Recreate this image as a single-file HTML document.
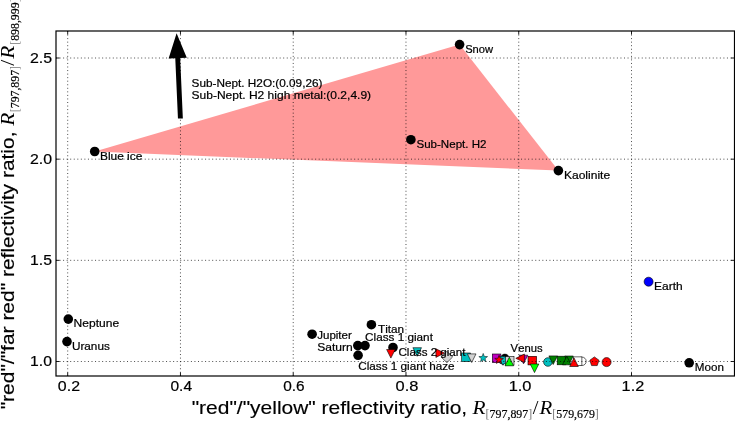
<!DOCTYPE html>
<html><head><meta charset="utf-8"><style>
html,body{margin:0;padding:0;background:#fff;}
body{width:735px;height:421px;overflow:hidden;}
svg{display:block;}
svg{will-change:transform;}
text{font-kerning:none;}
.b{stroke:#000;stroke-width:0.2px;}
.b2{stroke:#000;stroke-width:0.15px;}
</style></head><body>
<svg width="735" height="421" viewBox="0 0 735 421">
<rect x="0" y="0" width="735" height="421" fill="#fff"/>
<polygon points="94.7,151.5 459.6,44.6 558.4,170.6" fill="#ff9999"/>
<circle cx="94.7" cy="151.5" r="4.8" fill="#000" stroke="#000" stroke-width="0"/><circle cx="459.6" cy="44.6" r="4.8" fill="#000" stroke="#000" stroke-width="0"/><circle cx="558.4" cy="170.6" r="4.8" fill="#000" stroke="#000" stroke-width="0"/><circle cx="410.9" cy="139.7" r="4.8" fill="#000" stroke="#000" stroke-width="0"/><circle cx="68.3" cy="319.1" r="4.8" fill="#000" stroke="#000" stroke-width="0"/><circle cx="67.0" cy="341.6" r="4.8" fill="#000" stroke="#000" stroke-width="0"/><circle cx="312.1" cy="334.2" r="4.8" fill="#000" stroke="#000" stroke-width="0"/><circle cx="371.4" cy="324.7" r="4.8" fill="#000" stroke="#000" stroke-width="0"/><circle cx="357.8" cy="345.6" r="4.8" fill="#000" stroke="#000" stroke-width="0"/><circle cx="365.0" cy="345.6" r="4.8" fill="#000" stroke="#000" stroke-width="0"/><circle cx="358.1" cy="355.3" r="4.8" fill="#000" stroke="#000" stroke-width="0"/><circle cx="393.0" cy="347.5" r="4.8" fill="#000" stroke="#000" stroke-width="0"/><circle cx="689.2" cy="362.8" r="4.8" fill="#000" stroke="#000" stroke-width="0"/><circle cx="648.6" cy="281.7" r="4.5" fill="#0000ff" stroke="#000" stroke-width="0.6"/><polygon points="386.60,349.50 395.20,349.50 390.90,358.10" fill="#ff0000" stroke="#000" stroke-width="0.6"/><polygon points="412.90,347.70 421.50,347.70 417.20,356.30" fill="#00bfbf" stroke="#000" stroke-width="0.6"/><polygon points="435.90,348.80 435.90,357.40 444.50,353.10" fill="#ff0000" stroke="#000" stroke-width="0.6"/><polygon points="446.90,351.30 452.60,357.00 446.90,362.70 441.20,357.00" fill="#d3d3d3" stroke="#000" stroke-width="0.6"/><rect x="461.70" y="353.00" width="8.6" height="8.6" fill="#00bfbf" stroke="#000" stroke-width="0.6"/><polygon points="467.40,353.90 476.00,353.90 471.70,362.50" fill="#d3d3d3" stroke="#000" stroke-width="0.6"/><polygon points="483.20,353.40 484.34,356.44 487.57,356.58 485.04,358.60 485.90,361.72 483.20,359.93 480.50,361.72 481.36,358.60 478.83,356.58 482.06,356.44" fill="#00bfbf" stroke="#000" stroke-width="0.5"/><circle cx="504.9" cy="358.5" r="4.4" fill="#000" stroke="#000" stroke-width="0.6"/><rect x="492.30" y="354.00" width="8.6" height="8.6" fill="#bf00bf" stroke="#000" stroke-width="0.6"/><polygon points="498.70,356.70 507.30,356.70 503.00,365.30" fill="#00bfbf" stroke="#000" stroke-width="0.6"/><circle cx="502.9" cy="360.3" r="4.0" fill="#00bfbf" stroke="#000" stroke-width="0.6"/><polygon points="499.10,355.20 500.24,358.24 503.47,358.38 500.94,360.40 501.80,363.52 499.10,361.73 496.40,363.52 497.26,360.40 494.73,358.38 497.96,358.24" fill="#ff0000" stroke="#000" stroke-width="0.5"/><rect x="505.40" y="356.50" width="8.6" height="8.6" fill="#d3d3d3" stroke="#000" stroke-width="0.6"/><polygon points="505.00,365.80 513.60,365.80 509.30,357.20" fill="#00ff00" stroke="#000" stroke-width="0.6"/><polygon points="519.20,355.20 527.80,355.20 523.50,363.80" fill="#bf00bf" stroke="#000" stroke-width="0.6"/><polygon points="524.40,354.00 524.40,362.60 515.80,358.30" fill="#ff0000" stroke="#000" stroke-width="0.6"/><rect x="528.00" y="356.30" width="8.6" height="8.6" fill="#ff0000" stroke="#000" stroke-width="0.6"/><polygon points="530.20,364.00 538.80,364.00 534.50,372.60" fill="#00ff00" stroke="#000" stroke-width="0.6"/><circle cx="547.9" cy="362.0" r="4.3" fill="#00bfbf" stroke="#000" stroke-width="0.6"/><polygon points="548.90,355.90 557.50,355.90 553.20,364.50" fill="#008000" stroke="#000" stroke-width="0.6"/><rect x="557.20" y="356.20" width="8.6" height="8.6" fill="#008000" stroke="#000" stroke-width="0.6"/><polygon points="564.70,356.00 573.30,356.00 569.00,364.60" fill="#008000" stroke="#000" stroke-width="0.6"/><polygon points="562.50,364.80 571.10,364.80 566.80,356.20" fill="#008000" stroke="#000" stroke-width="0.6"/><circle cx="582.0" cy="361.3" r="4.2" fill="#fff" stroke="#000" stroke-width="0.6"/><rect x="573.30" y="356.90" width="8.6" height="8.6" fill="#fff" stroke="#000" stroke-width="0.6"/><polygon points="569.70,366.50 578.30,366.50 574.00,357.90" fill="#ff0000" stroke="#000" stroke-width="0.6"/><polygon points="594.40,356.90 598.97,360.22 597.22,365.58 591.58,365.58 589.83,360.22" fill="#ff0000" stroke="#000" stroke-width="0.6"/><circle cx="606.6" cy="362.1" r="4.5" fill="#ff0000" stroke="#000" stroke-width="0.6"/>
<g stroke="#000" stroke-width="0.7" stroke-dasharray="1 2.55" fill="none"><line x1="67.70" y1="31.0" x2="67.70" y2="376.0"/><line x1="180.46" y1="31.0" x2="180.46" y2="376.0"/><line x1="293.22" y1="31.0" x2="293.22" y2="376.0"/><line x1="405.98" y1="31.0" x2="405.98" y2="376.0"/><line x1="518.74" y1="31.0" x2="518.74" y2="376.0"/><line x1="631.50" y1="31.0" x2="631.50" y2="376.0"/><line x1="56.0" y1="361.50" x2="734.5" y2="361.50"/><line x1="56.0" y1="260.33" x2="734.5" y2="260.33"/><line x1="56.0" y1="159.17" x2="734.5" y2="159.17"/><line x1="56.0" y1="58.00" x2="734.5" y2="58.00"/></g>
<rect x="56.0" y="31.0" width="678.50" height="345.00" fill="none" stroke="#000" stroke-width="1.2"/><g stroke="#000" stroke-width="0.9"><line x1="67.70" y1="376.0" x2="67.70" y2="372.5"/><line x1="67.70" y1="31.0" x2="67.70" y2="34.5"/><line x1="180.46" y1="376.0" x2="180.46" y2="372.5"/><line x1="180.46" y1="31.0" x2="180.46" y2="34.5"/><line x1="293.22" y1="376.0" x2="293.22" y2="372.5"/><line x1="293.22" y1="31.0" x2="293.22" y2="34.5"/><line x1="405.98" y1="376.0" x2="405.98" y2="372.5"/><line x1="405.98" y1="31.0" x2="405.98" y2="34.5"/><line x1="518.74" y1="376.0" x2="518.74" y2="372.5"/><line x1="518.74" y1="31.0" x2="518.74" y2="34.5"/><line x1="631.50" y1="376.0" x2="631.50" y2="372.5"/><line x1="631.50" y1="31.0" x2="631.50" y2="34.5"/><line x1="56.0" y1="361.50" x2="59.5" y2="361.50"/><line x1="734.5" y1="361.50" x2="731.0" y2="361.50"/><line x1="56.0" y1="260.33" x2="59.5" y2="260.33"/><line x1="734.5" y1="260.33" x2="731.0" y2="260.33"/><line x1="56.0" y1="159.17" x2="59.5" y2="159.17"/><line x1="734.5" y1="159.17" x2="731.0" y2="159.17"/><line x1="56.0" y1="58.00" x2="59.5" y2="58.00"/><line x1="734.5" y1="58.00" x2="731.0" y2="58.00"/></g>
<text x="57.86" y="391.40" font-size="14.8" font-family='"Liberation Sans", sans-serif' style="" textLength="22.13" lengthAdjust="spacingAndGlyphs" fill="#000" class="b">0.2</text>
<text x="170.48" y="391.40" font-size="14.8" font-family='"Liberation Sans", sans-serif' style="" textLength="21.59" lengthAdjust="spacingAndGlyphs" fill="#000" class="b">0.4</text>
<text x="283.18" y="391.40" font-size="14.8" font-family='"Liberation Sans", sans-serif' style="" textLength="21.43" lengthAdjust="spacingAndGlyphs" fill="#000" class="b">0.6</text>
<text x="395.54" y="391.40" font-size="14.8" font-family='"Liberation Sans", sans-serif' style="" textLength="22.81" lengthAdjust="spacingAndGlyphs" fill="#000" class="b">0.8</text>
<text x="508.67" y="391.40" font-size="14.8" font-family='"Liberation Sans", sans-serif' style="" textLength="22.80" lengthAdjust="spacingAndGlyphs" fill="#000" class="b">1.0</text>
<text x="621.58" y="391.40" font-size="14.8" font-family='"Liberation Sans", sans-serif' style="" textLength="22.64" lengthAdjust="spacingAndGlyphs" fill="#000" class="b">1.2</text>
<text x="30.12" y="366.00" font-size="14.8" font-family='"Liberation Sans", sans-serif' style="" textLength="21.83" lengthAdjust="spacingAndGlyphs" fill="#000" class="b">1.0</text>
<text x="30.12" y="265.00" font-size="14.8" font-family='"Liberation Sans", sans-serif' style="" textLength="21.91" lengthAdjust="spacingAndGlyphs" fill="#000" class="b">1.5</text>
<text x="29.91" y="164.00" font-size="14.8" font-family='"Liberation Sans", sans-serif' style="" textLength="22.05" lengthAdjust="spacingAndGlyphs" fill="#000" class="b">2.0</text>
<text x="29.90" y="63.00" font-size="14.8" font-family='"Liberation Sans", sans-serif' style="" textLength="22.13" lengthAdjust="spacingAndGlyphs" fill="#000" class="b">2.5</text>
<polygon points="182.85,118.39 180.16,58.07 186.80,57.77 176.60,33.20 168.62,58.58 175.27,58.28 177.95,118.61" fill="#000"/>
<text x="99.94" y="159.60" font-size="10.8" font-family='"Liberation Sans", sans-serif' style="" textLength="42.39" lengthAdjust="spacingAndGlyphs" fill="#000" class="b">Blue ice</text><text x="465.20" y="52.70" font-size="10.8" font-family='"Liberation Sans", sans-serif' style="" textLength="27.85" lengthAdjust="spacingAndGlyphs" fill="#000" class="b">Snow</text><text x="563.93" y="178.80" font-size="10.8" font-family='"Liberation Sans", sans-serif' style="" textLength="46.21" lengthAdjust="spacingAndGlyphs" fill="#000" class="b">Kaolinite</text><text x="416.48" y="148.20" font-size="10.8" font-family='"Liberation Sans", sans-serif' style="" textLength="70.00" lengthAdjust="spacingAndGlyphs" fill="#000" class="b">Sub-Nept. H2</text><text x="191.57" y="87.00" font-size="10.8" font-family='"Liberation Sans", sans-serif' style="" textLength="130.89" lengthAdjust="spacingAndGlyphs" fill="#000" class="b">Sub-Nept. H2O:(0.09,26)</text><text x="191.56" y="98.60" font-size="10.8" font-family='"Liberation Sans", sans-serif' style="" textLength="179.52" lengthAdjust="spacingAndGlyphs" fill="#000" class="b">Sub-Nept. H2 high metal:(0.2,4.9)</text><text x="73.64" y="327.10" font-size="10.8" font-family='"Liberation Sans", sans-serif' style="" textLength="45.51" lengthAdjust="spacingAndGlyphs" fill="#000" class="b">Neptune</text><text x="71.92" y="349.60" font-size="10.8" font-family='"Liberation Sans", sans-serif' style="" textLength="37.89" lengthAdjust="spacingAndGlyphs" fill="#000" class="b">Uranus</text><text x="317.23" y="338.50" font-size="10.8" font-family='"Liberation Sans", sans-serif' style="" textLength="34.60" lengthAdjust="spacingAndGlyphs" fill="#000" class="b">Jupiter</text><text x="317.26" y="350.60" font-size="10.8" font-family='"Liberation Sans", sans-serif' style="" textLength="35.53" lengthAdjust="spacingAndGlyphs" fill="#000" class="b">Saturn</text><text x="377.96" y="332.80" font-size="10.8" font-family='"Liberation Sans", sans-serif' style="" textLength="26.20" lengthAdjust="spacingAndGlyphs" fill="#000" class="b">Titan</text><text x="365.11" y="340.60" font-size="10.8" font-family='"Liberation Sans", sans-serif' style="" textLength="67.80" lengthAdjust="spacingAndGlyphs" fill="#000" class="b">Class 1 giant</text><text x="358.21" y="369.80" font-size="10.8" font-family='"Liberation Sans", sans-serif' style="" textLength="96.41" lengthAdjust="spacingAndGlyphs" fill="#000" class="b">Class 1 giant haze</text><text x="398.52" y="356.10" font-size="10.8" font-family='"Liberation Sans", sans-serif' style="" textLength="66.90" lengthAdjust="spacingAndGlyphs" fill="#000" class="b">Class 2 giant</text><text x="510.64" y="352.40" font-size="10.8" font-family='"Liberation Sans", sans-serif' style="" textLength="31.94" lengthAdjust="spacingAndGlyphs" fill="#000" class="b">Venus</text><text x="654.04" y="289.80" font-size="10.8" font-family='"Liberation Sans", sans-serif' style="" textLength="28.64" lengthAdjust="spacingAndGlyphs" fill="#000" class="b">Earth</text><text x="694.77" y="371.10" font-size="10.8" font-family='"Liberation Sans", sans-serif' style="" textLength="29.09" lengthAdjust="spacingAndGlyphs" fill="#000" class="b">Moon</text>
<text x="191.66" y="413.60" font-size="17.8" font-family='"Liberation Sans", sans-serif' style="" textLength="275.52" lengthAdjust="spacingAndGlyphs" fill="#000" class="b2">&quot;red&quot;/&quot;yellow&quot; reflectivity ratio,</text><text x="472.61" y="413.90" font-size="18.4" font-family='"Liberation Serif", serif' style="font-style:italic;" textLength="13.01" lengthAdjust="spacingAndGlyphs" fill="#000" >R</text><text x="485.61" y="418.20" font-size="12.4" font-family='"Liberation Serif", serif' style="" textLength="46.58" lengthAdjust="spacingAndGlyphs" fill="#000" class="b"><tspan fill="#777" stroke="none">[</tspan>797,897<tspan fill="#777" stroke="none">]</tspan></text><text x="532.80" y="414.00" font-size="18.4" font-family='"Liberation Serif", serif' style="" textLength="5.70" lengthAdjust="spacingAndGlyphs" fill="#000" >/</text><text x="539.40" y="413.90" font-size="18.4" font-family='"Liberation Serif", serif' style="font-style:italic;" textLength="12.71" lengthAdjust="spacingAndGlyphs" fill="#000" >R</text><text x="552.31" y="418.20" font-size="12.4" font-family='"Liberation Serif", serif' style="" textLength="46.48" lengthAdjust="spacingAndGlyphs" fill="#000" class="b"><tspan fill="#777" stroke="none">[</tspan>579,679<tspan fill="#777" stroke="none">]</tspan></text>
<g transform="translate(13.9,408.5) rotate(-90)"><text x="-0.84" y="0.00" font-size="17.8" font-family='"Liberation Sans", sans-serif' style="" textLength="277.82" lengthAdjust="spacingAndGlyphs" fill="#000" class="b2">&quot;red&quot;/&quot;far red&quot; reflectivity ratio,</text><text x="282.81" y="0.30" font-size="18.4" font-family='"Liberation Serif", serif' style="font-style:italic;" textLength="13.01" lengthAdjust="spacingAndGlyphs" fill="#000" >R</text><text x="296.32" y="4.60" font-size="12.4" font-family='"Liberation Serif", serif' style="" textLength="46.17" lengthAdjust="spacingAndGlyphs" fill="#000" class="b"><tspan fill="#777" stroke="none">[</tspan>797,897<tspan fill="#777" stroke="none">]</tspan></text><text x="342.70" y="0.40" font-size="18.4" font-family='"Liberation Serif", serif' style="" textLength="6.01" lengthAdjust="spacingAndGlyphs" fill="#000" >/</text><text x="349.81" y="0.30" font-size="18.4" font-family='"Liberation Serif", serif' style="font-style:italic;" textLength="13.01" lengthAdjust="spacingAndGlyphs" fill="#000" >R</text><text x="363.71" y="4.60" font-size="12.4" font-family='"Liberation Serif", serif' style="" textLength="46.37" lengthAdjust="spacingAndGlyphs" fill="#000" class="b"><tspan fill="#777" stroke="none">[</tspan>898,999<tspan fill="#777" stroke="none">]</tspan></text></g>
</svg>
</body></html>
